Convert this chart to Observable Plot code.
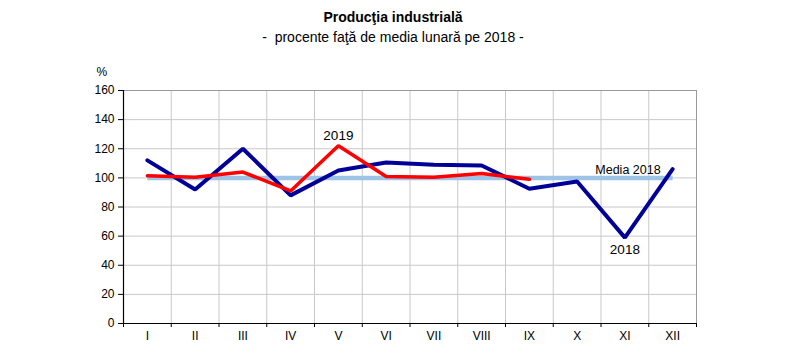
<!DOCTYPE html>
<html>
<head>
<meta charset="utf-8">
<script src="https://cdn.jsdelivr.net/npm/d3@7"></script>
<script src="https://cdn.jsdelivr.net/npm/@observablehq/plot@0.6"></script>
<style>
  body { margin: 0; background: #fff; font-family: "Liberation Sans", Arial, sans-serif; }
  #wrap { width: 786px; height: 364px; position: relative; overflow: hidden; }
  .t1 { position: absolute; left: 0; width: 786px; top: 7px; line-height: 20px; text-align: center; font-size: 14px; font-weight: bold; color: #000; }
  .t2 { position: absolute; left: 0; width: 786px; top: 27px; line-height: 20px; text-align: center; font-size: 14px; color: #000; }
  #chart { position: absolute; left: 0; top: 47px; }
</style>
</head>
<body>
<div id="wrap">
  <div class="t1">Producţia industrială</div>
  <div class="t2">-&nbsp; procente faţă de media lunară pe 2018 -</div>
  <div id="chart"></div>
</div>
<script>
const months = ["I","II","III","IV","V","VI","VII","VIII","IX","X","XI","XII"];
const values2018 = [112, 92, 120, 88, 105, 110.5, 109, 108.5, 92.5, 97.5, 59, 106];
const values2019 = [101.5, 100.5, 104, 91, 122, 101, 100.5, 103, 99];
const media2018 = 100;
const yTicks = [0, 20, 40, 60, 80, 100, 120, 140, 160];

const d2018 = values2018.map((v, i) => ({i: i + 1, v}));
const d2019 = values2019.map((v, i) => ({i: i + 1, v}));
const dMedia = months.map((m, i) => ({i: i + 1, v: media2018}));
const bounds = d3.range(0.5, months.length + 1, 1);

const chart = Plot.plot({
  width: 786,
  height: 310,
  marginLeft: 123,
  marginRight: 90,
  marginTop: 43,
  marginBottom: 34,
  style: {fontFamily: "Liberation Sans, Arial, sans-serif", fontSize: "12px", color: "#000", background: "#fff"},
  x: {type: "linear", domain: [0.5, months.length + 0.5]},
  y: {domain: [0, 160]},
  marks: [
    Plot.gridY(yTicks, {stroke: "#c8c8c8", strokeOpacity: 1, strokeWidth: 1}),
    Plot.gridX(bounds, {stroke: "#c8c8c8", strokeOpacity: 1, strokeWidth: 1}),
    Plot.frame({stroke: "#9a9a9a"}),
    Plot.axisY(yTicks, {tickSize: 5, tickPadding: 4, fontSize: 12, label: null, stroke: "#000"}),
    Plot.axisX(bounds, {tickSize: 4, tickFormat: () => "", label: null}),
    Plot.axisX(d3.range(1, months.length + 1), {tickSize: 0, tickPadding: 8, tickFormat: d => months[d - 1], fontSize: 12, label: null}),
    Plot.ruleX([0.5], {stroke: "#000", strokeWidth: 1.2}),
    Plot.ruleY([0], {stroke: "#000", strokeWidth: 1.2}),
    Plot.line(dMedia, {x: "i", y: "v", stroke: "#9dc3e6", strokeWidth: 4.5, strokeLinecap: "butt"}),
    Plot.line(d2018, {x: "i", y: "v", stroke: "#000099", strokeWidth: 4, strokeLinejoin: "miter", strokeLinecap: "round"}),
    Plot.line(d2019, {x: "i", y: "v", stroke: "#ff0000", strokeWidth: 3.5, strokeLinejoin: "miter", strokeLinecap: "round"}),
    Plot.text([d2019[4]], {x: "i", y: "v", text: () => "2019", dy: -10, fontSize: 13.5, fill: "#000"}),
    Plot.text([d2018[10]], {x: "i", y: "v", text: () => "2018", dy: 12, fontSize: 13.5, fill: "#000"}),
    Plot.text([dMedia[11]], {x: "i", y: "v", text: () => "Media 2018", dx: -12, dy: -8, textAnchor: "end", fontSize: 12.5, fill: "#000"}),
    Plot.text(["%"], {frameAnchor: "top-left", text: d => d, dx: -27, dy: -23, fontSize: 12, fill: "#000"})
  ]
});
document.getElementById("chart").appendChild(chart);
</script>
</body>
</html>
